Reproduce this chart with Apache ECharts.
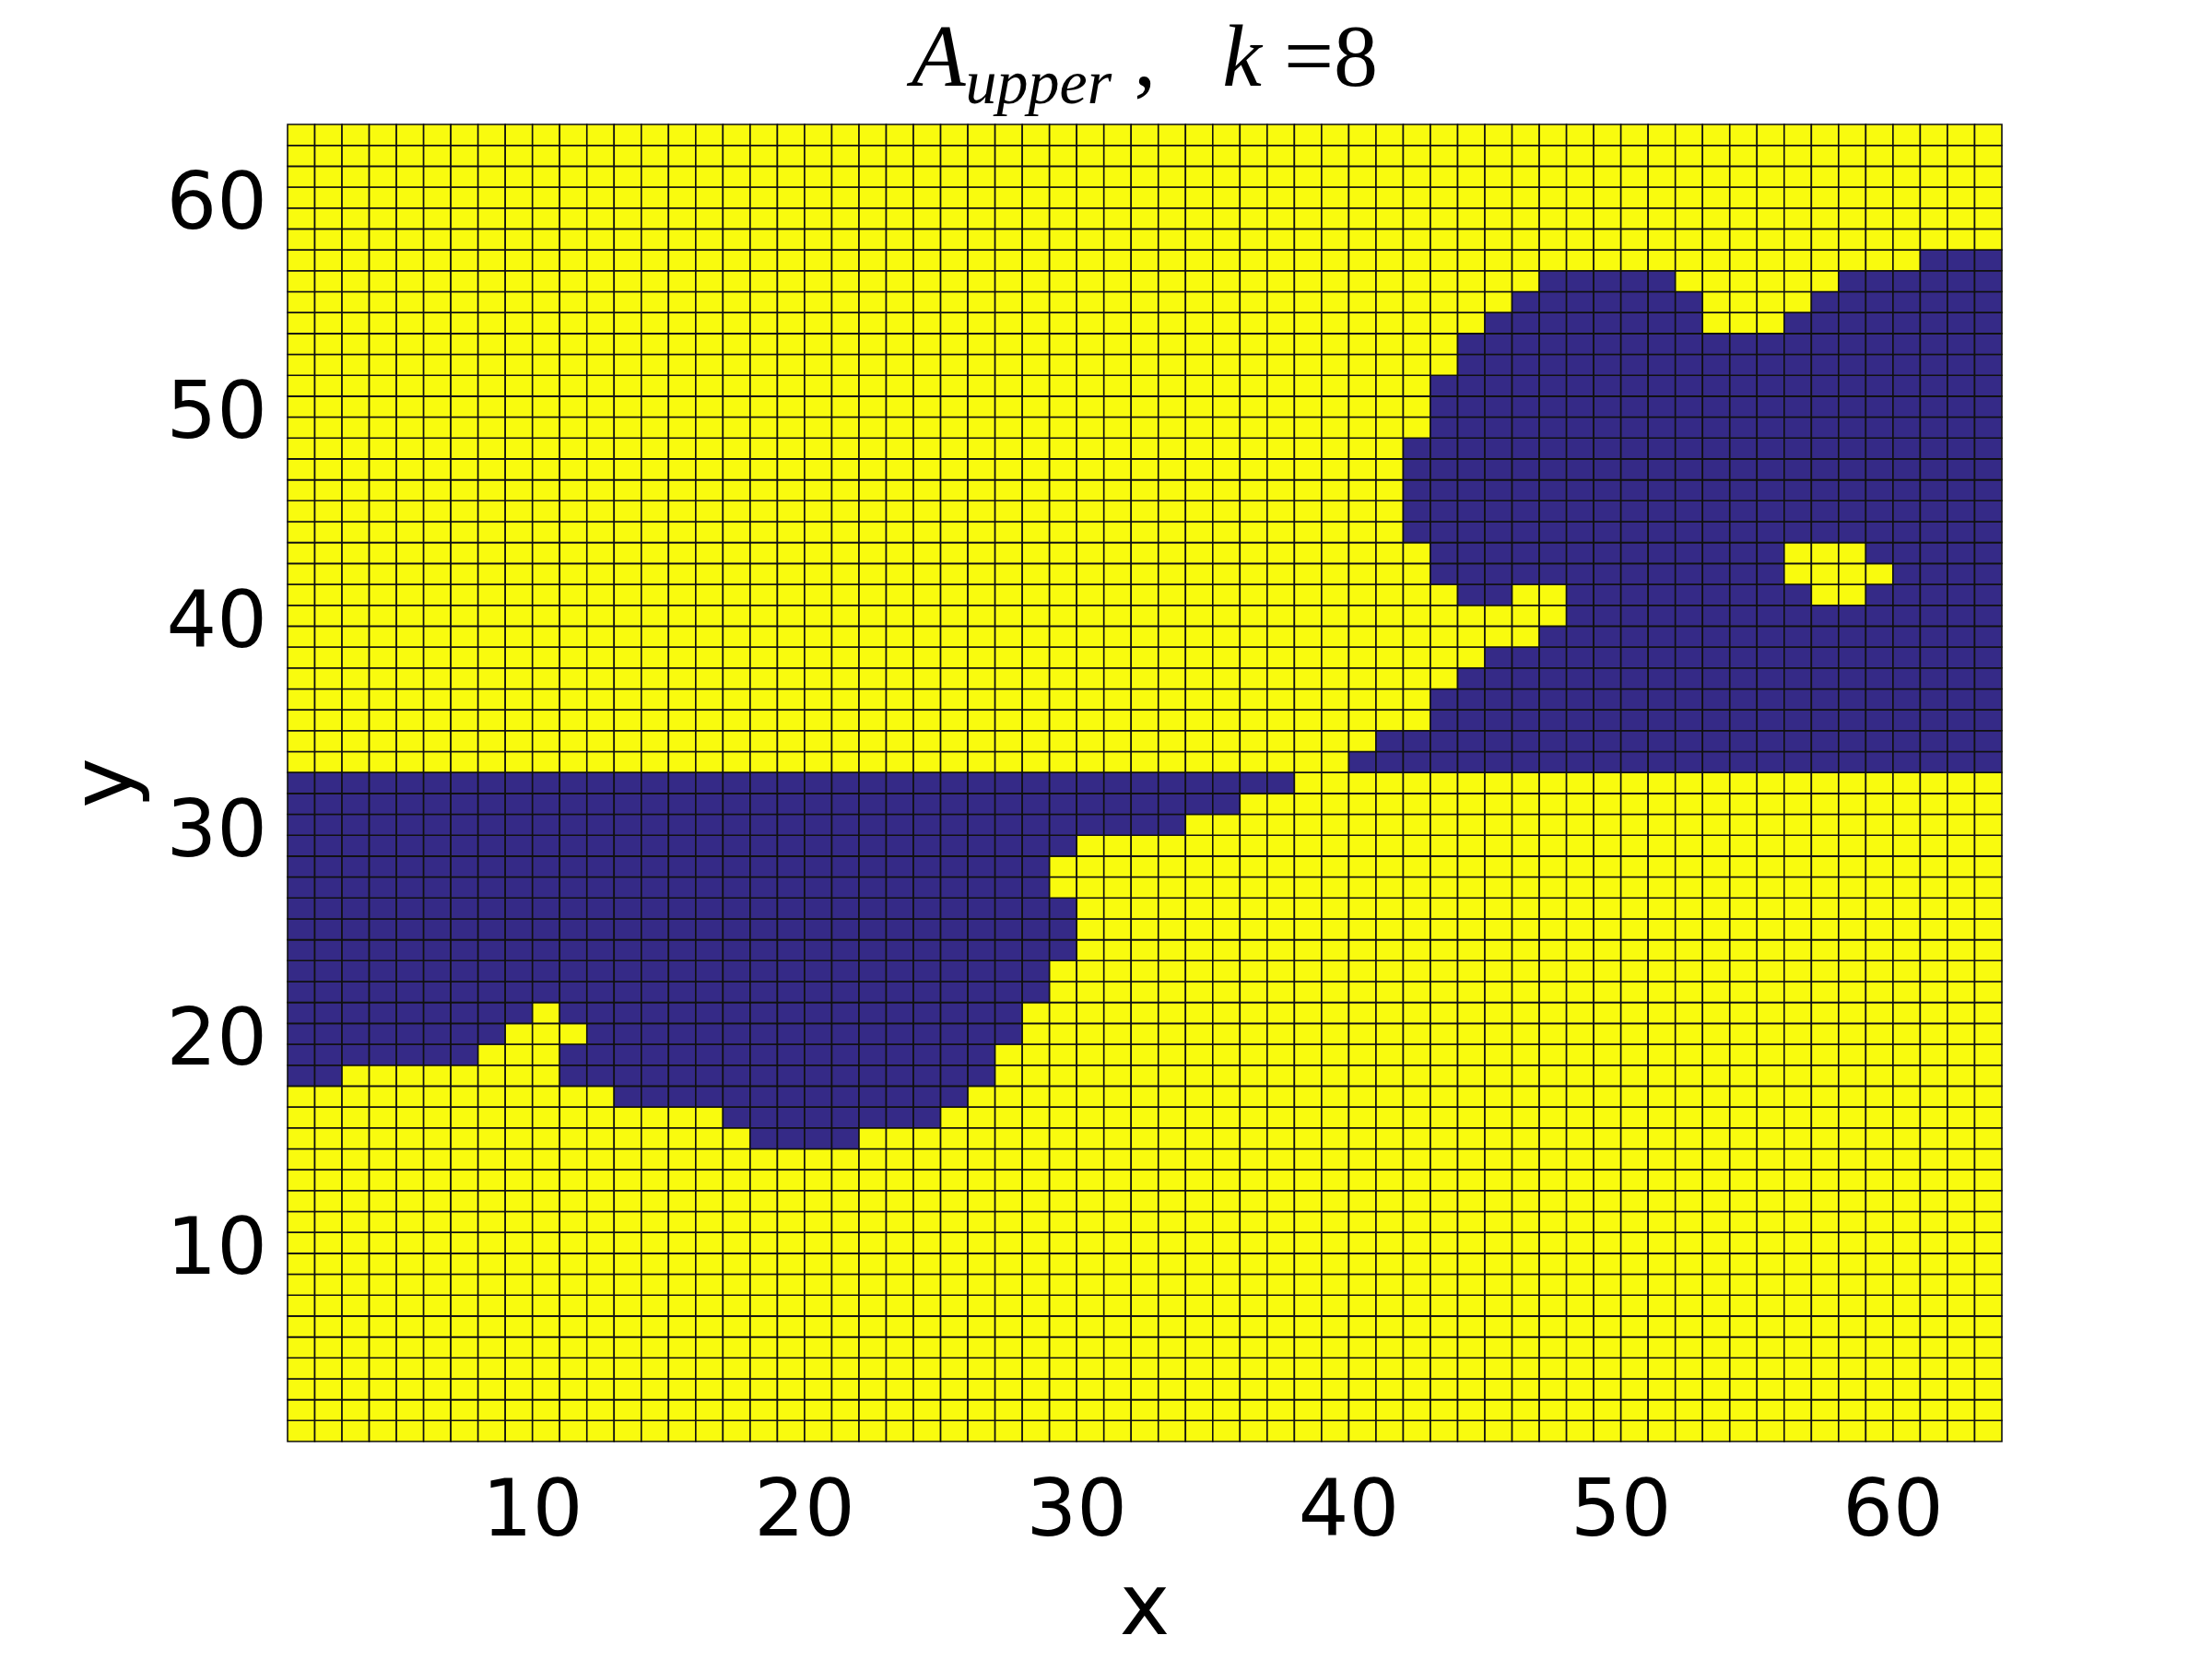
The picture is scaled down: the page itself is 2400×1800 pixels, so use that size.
<!DOCTYPE html>
<html>
<head>
<meta charset="utf-8">
<script src="https://cdn.jsdelivr.net/npm/echarts@6/dist/echarts.min.js"></script>
<style>
html,body{margin:0;padding:0;background:#fff;}
#chart{width:2400px;height:1800px;}
</style>
</head>
<body>
<div id="chart"></div>
<script>
// ---- data ----
// grid cell lower-left corners (pcolor of a 64x64 field shows 63x63 cells)
const cellX = Array.from({length: 63}, (_, i) => i + 1);
const cellY = Array.from({length: 63}, (_, i) => i + 1);
// blue (low value) spans: [row y, first x, last x]; everything else is the high value
const blueSpans = [
  [15,18,21],
  [16,17,24],
  [17,13,25],
  [18,1,2],[18,11,26],
  [19,1,7],[19,11,26],
  [20,1,8],[20,12,27],
  [21,1,9],[21,11,27],
  [22,1,28],[23,1,28],
  [24,1,29],[25,1,29],[26,1,29],
  [27,1,28],[28,1,28],
  [29,1,29],
  [30,1,33],
  [31,1,35],
  [32,1,37],
  [33,40,63],
  [34,41,63],
  [35,43,63],[36,43,63],
  [37,44,63],
  [38,45,63],
  [39,47,63],
  [40,48,63],
  [41,44,45],[41,48,56],[41,59,63],
  [42,43,55],[42,60,63],
  [43,43,55],[43,59,63],
  [44,42,63],[45,42,63],[46,42,63],[47,42,63],[48,42,63],
  [49,43,63],[50,43,63],[51,43,63],
  [52,44,63],[53,44,63],
  [54,45,52],[54,56,63],
  [55,46,52],[55,57,63],
  [56,47,51],[56,58,63],
  [57,61,63]
];
const lowValue = 0;
const highValue = 1;
const xTicks = [10, 20, 30, 40, 50, 60];
const yTicks = [10, 20, 30, 40, 50, 60];
const xRange = [1, 64];
const yRange = [1, 64];

// ---- build cell table ----
function isBlue(x, y) {
  for (const s of blueSpans) {
    if (s[0] === y && x >= s[1] && x <= s[2]) return true;
  }
  return false;
}
const cells = [];
for (const y of cellY) {
  for (const x of cellX) {
    cells.push([x, y, isBlue(x, y) ? lowValue : highValue]);
  }
}

const palette = ['#352A87', '#F9FB0E'];

const chart = echarts.init(document.getElementById('chart'), null, {renderer: 'canvas'});
chart.setOption({
  animation: false,
  backgroundColor: '#ffffff',
  title: {
    left: 1242,
    top: 8,
    textAlign: 'center',
    padding: 0,
    text: '{a|A}{s|upper}{n| ,   }{a|k}{n| =8}',
    textStyle: {
      fontWeight: 'normal',
      rich: {
        a: {fontFamily: 'Liberation Serif', fontStyle: 'italic', fontWeight: 'normal', fontSize: 96, color: '#000', lineHeight: 120, verticalAlign: 'middle'},
        s: {fontFamily: 'Liberation Serif', fontStyle: 'italic', fontWeight: 'normal', fontSize: 68, color: '#000', lineHeight: 75, verticalAlign: 'bottom'},
        n: {fontFamily: 'Liberation Serif', fontWeight: 'normal', fontSize: 96, color: '#000', lineHeight: 120, verticalAlign: 'middle'}
      }
    }
  },
  grid: {left: 312, top: 135, width: 1860, height: 1430, containLabel: false},
  xAxis: {
    type: 'value',
    min: xRange[0], max: xRange[1],
    name: 'x',
    nameLocation: 'middle',
    nameGap: 139,
    nameTextStyle: {fontFamily: 'DejaVu Sans', fontSize: 92, color: '#000'},
    axisLine: {show: false},
    axisTick: {show: false},
    splitLine: {show: false},
    axisLabel: {customValues: xTicks, fontFamily: 'DejaVu Sans', fontSize: 86, color: '#000', margin: 37}
  },
  yAxis: {
    type: 'value',
    min: yRange[0], max: yRange[1],
    name: 'y',
    nameLocation: 'middle',
    nameGap: 147,
    nameRotate: 90,
    nameTextStyle: {fontFamily: 'DejaVu Sans', fontSize: 92, color: '#000'},
    axisLine: {show: false},
    axisTick: {show: false},
    splitLine: {show: false},
    axisLabel: {customValues: yTicks, fontFamily: 'DejaVu Sans', fontSize: 86, color: '#000', margin: 22, padding: [14, 0, 0, 0]}
  },
  series: [{
    type: 'custom',
    coordinateSystem: 'cartesian2d',
    encode: {x: 0, y: 1},
    data: cells,
    renderItem: function (params, api) {
      const x = api.value(0), y = api.value(1), v = api.value(2);
      const p0 = api.coord([x, y + 1]);
      const p1 = api.coord([x + 1, y]);
      return {
        type: 'rect',
        shape: {x: p0[0], y: p0[1], width: p1[0] - p0[0], height: p1[1] - p0[1]},
        style: {fill: palette[v], stroke: '#111111', lineWidth: 1.6}
      };
    }
  }]
});
</script>
</body>
</html>
